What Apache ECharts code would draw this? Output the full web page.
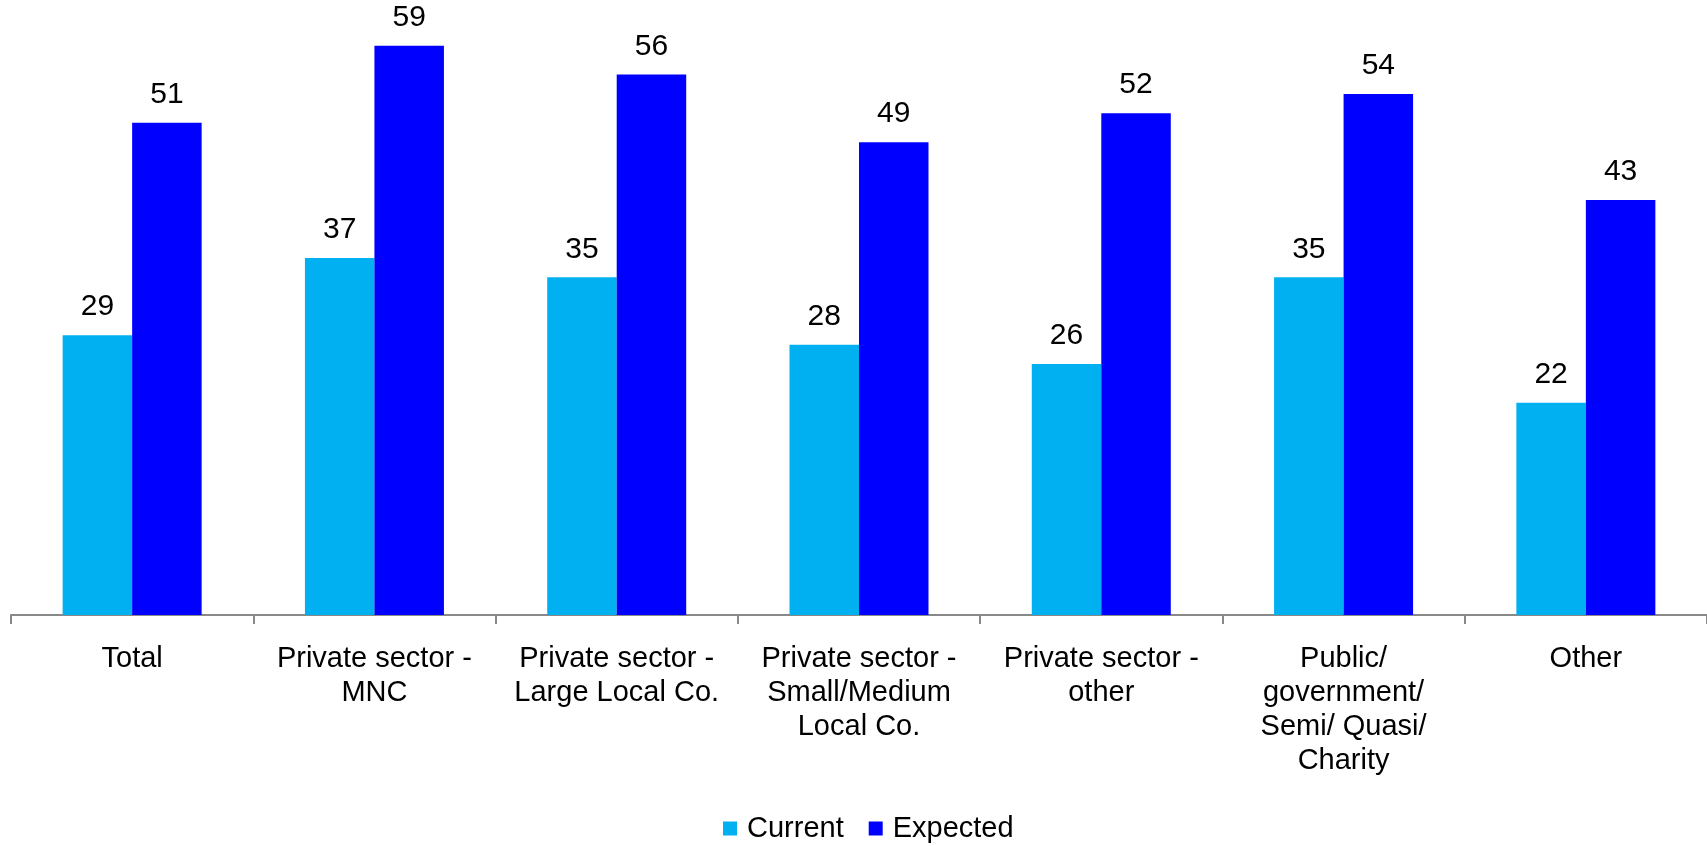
<!DOCTYPE html>
<html><head><meta charset="utf-8">
<script src="https://cdn.jsdelivr.net/npm/echarts@6/dist/echarts.min.js"></script>
<style>html,body{margin:0;padding:0;background:#fff}#c{width:1707px;height:846px}</style>
</head><body><div id="c"></div>
<script>
const categories = ["Total", "Private sector -\nMNC", "Private sector -\nLarge Local Co.", "Private sector -\nSmall/Medium\nLocal Co.", "Private sector -\nother", "Public/\ngovernment/\nSemi/ Quasi/\nCharity", "Other"];
const currentValues = [29, 37, 35, 28, 26, 35, 22];
const expectedValues = [51, 59, 56, 49, 52, 54, 43];
const seriesNames = ["Current", "Expected"];

const chart = echarts.init(document.getElementById('c'));
const font = 'Liberation Sans, Arial, sans-serif';
const lbl = {show: true, position: 'top', distance: 13, color: '#000', fontSize: 30, fontFamily: font};
chart.setOption({
  animation: false,
  grid: {left: 11, top: 36, width: 1703, height: 579, containLabel: false},
  legend: {top: 809, left: 718, itemWidth: 14, itemHeight: 14, itemGap: 25,
    textStyle: {fontSize: 29, fontFamily: font, color: '#000', padding: [0, 0, 0, 5]}, icon: 'rect',
    data: seriesNames},
  xAxis: {type: 'category', data: categories,
    axisLine: {lineStyle: {color: '#898989', width: 2}},
    axisTick: {show: true, length: 9, lineStyle: {color: '#898989', width: 2}},
    axisLabel: {interval: 0, margin: 27, color: '#000', fontSize: 29, lineHeight: 34, fontFamily: font}},
  yAxis: {type: 'value', min: 0, max: 60, show: false, splitLine: {show: false}},
  series: [
    {name: seriesNames[0], type: 'bar', data: currentValues, barWidth: 69.5, barGap: '0%', itemStyle: {color: '#00B0F0'}, label: lbl},
    {name: seriesNames[1], type: 'bar', data: expectedValues, barWidth: 69.5, barGap: '0%', itemStyle: {color: '#0000FF'}, label: lbl}
  ]
});
</script></body></html>
